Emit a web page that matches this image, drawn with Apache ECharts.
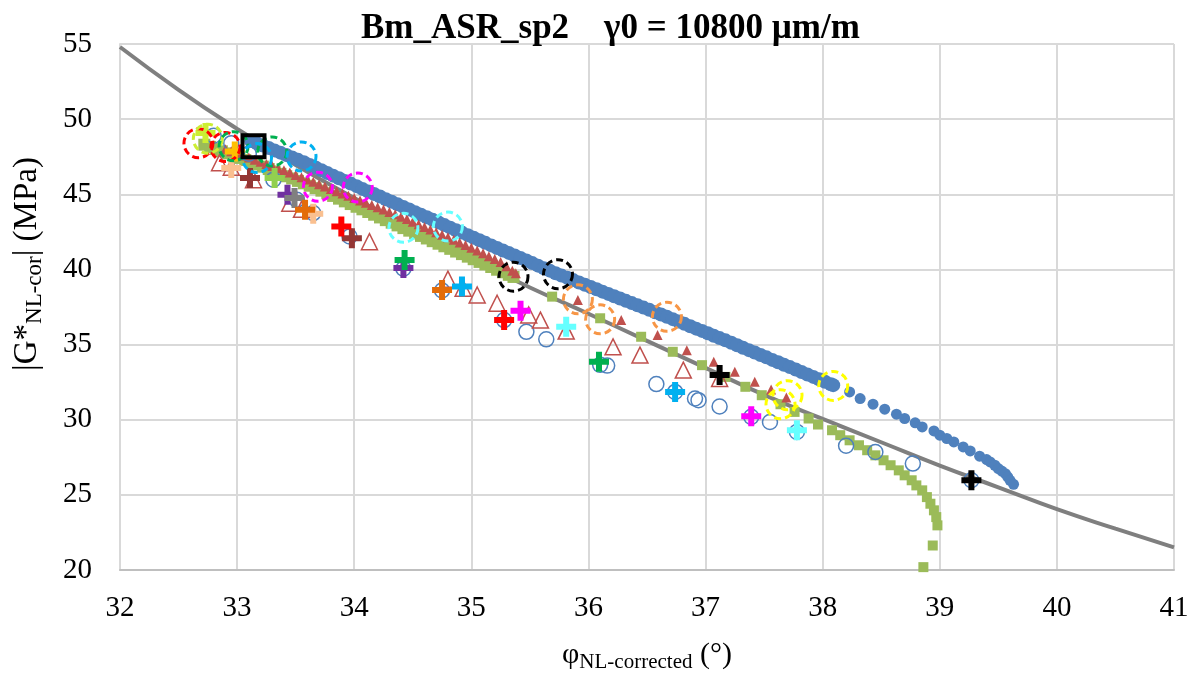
<!DOCTYPE html>
<html><head><meta charset="utf-8">
<script src="https://cdn.jsdelivr.net/npm/echarts@6/dist/echarts.min.js"></script>
<style>html,body{margin:0;padding:0;background:#fff}#c{width:1201px;height:674px}</style>
</head><body><div id="c"></div>
<script>
// ---- data ----
const titleText = 'Bm_ASR_sp2    \u03b30 = 10800 \u00b5m/m';
const xName = '\u03c6{s|NL-corrected} (\u00b0)';
const yName = '|G*{s|NL-cor}| (MPa)';
const xRange = [32, 41, 1];
const yRange = [20, 55, 5];

const grayCurve = [[32.0,54.80],[32.5,51.95],[33.0,49.35],[33.5,46.95],[34.0,44.75],[34.5,42.70],[35.0,40.70],[35.5,38.80],[36.0,37.05],[36.5,35.25],[37.0,33.45],[37.5,31.65],[38.0,30.05],[38.5,28.50],[39.0,26.95],[39.5,25.50],[40.0,24.05],[40.5,22.75],[41.0,21.50]];

const blueBand = [[33.12,48.55],[33.17,48.39],[33.22,48.24],[33.27,48.08],[33.32,47.92],[33.37,47.77],[33.42,47.61],[33.47,47.45],[33.52,47.29],[33.57,47.13],[33.62,46.95],[33.67,46.78],[33.72,46.60],[33.77,46.42],[33.82,46.24],[33.87,46.07],[33.92,45.89],[33.97,45.71],[34.02,45.54],[34.07,45.36],[34.12,45.19],[34.17,45.02],[34.22,44.85],[34.27,44.67],[34.32,44.50],[34.37,44.33],[34.42,44.16],[34.47,43.99],[34.52,43.81],[34.57,43.64],[34.62,43.47],[34.67,43.30],[34.72,43.13],[34.77,42.95],[34.82,42.78],[34.87,42.61],[34.92,42.45],[34.97,42.28],[35.02,42.11],[35.07,41.94],[35.12,41.77],[35.17,41.60],[35.22,41.43],[35.27,41.26],[35.32,41.10],[35.37,40.93],[35.42,40.76],[35.47,40.59],[35.52,40.42],[35.57,40.25],[35.62,40.08],[35.67,39.92],[35.72,39.75],[35.77,39.59],[35.82,39.44],[35.87,39.29],[35.92,39.13],[35.97,38.98],[36.02,38.83],[36.07,38.68],[36.12,38.52],[36.17,38.37],[36.22,38.22],[36.27,38.07],[36.32,37.91],[36.37,37.76],[36.42,37.61],[36.47,37.46],[36.52,37.31],[36.57,37.15],[36.62,37.00],[36.67,36.85],[36.72,36.69],[36.77,36.54],[36.82,36.38],[36.87,36.22],[36.92,36.06],[36.97,35.91],[37.02,35.75],[37.07,35.59],[37.12,35.43],[37.17,35.28],[37.22,35.12],[37.27,34.95],[37.32,34.79],[37.37,34.63],[37.42,34.47],[37.47,34.31],[37.52,34.15],[37.57,33.98],[37.62,33.82],[37.67,33.66],[37.72,33.50],[37.77,33.34],[37.82,33.17],[37.87,33.01],[37.92,32.85],[37.97,32.69],[38.02,32.53],[38.07,32.36],[38.09,32.30]];
const blueTail = [[38.23,31.85],[38.32,31.41],[38.43,31.03],[38.53,30.70],[38.63,30.37],[38.70,30.08],[38.79,29.79],[38.85,29.52],[38.95,29.25],[39.00,28.97],[39.06,28.75],[39.12,28.52],[39.20,28.19],[39.26,27.92],[39.34,27.57],[39.40,27.35],[39.43,27.19],[39.47,26.97],[39.50,26.75],[39.53,26.58],[39.56,26.41],[39.58,26.20],[39.60,25.97],[39.63,25.70]];

const redBand = [[32.90,48.00],[32.95,47.86],[33.00,47.72],[33.05,47.58],[33.10,47.44],[33.15,47.30],[33.20,47.16],[33.25,47.02],[33.30,46.88],[33.35,46.74],[33.40,46.60],[33.45,46.45],[33.50,46.29],[33.55,46.14],[33.60,45.98],[33.65,45.83],[33.70,45.67],[33.75,45.52],[33.80,45.36],[33.85,45.21],[33.90,45.06],[33.95,44.90],[34.00,44.75],[34.05,44.59],[34.10,44.44],[34.15,44.28],[34.20,44.13],[34.25,43.98],[34.30,43.82],[34.35,43.67],[34.40,43.51],[34.45,43.35],[34.50,43.17],[34.55,43.00],[34.60,42.83],[34.65,42.66],[34.70,42.48],[34.75,42.31],[34.80,42.14],[34.85,41.97],[34.90,41.80],[34.95,41.62],[35.00,41.45],[35.05,41.26],[35.10,41.07],[35.15,40.88],[35.20,40.69],[35.25,40.50],[35.30,40.21],[35.35,39.92],[35.38,39.75]];
const redSparse = [[35.91,37.97],[36.28,36.63],[36.59,35.63],[36.84,34.63],[37.07,33.85],[37.25,33.19],[37.42,32.52],[37.56,32.01],[37.69,31.48]];

const greenBand = [[32.72,48.30],[32.77,48.15],[32.82,48.01],[32.87,47.86],[32.92,47.72],[32.97,47.57],[33.02,47.42],[33.07,47.28],[33.12,47.13],[33.17,46.99],[33.22,46.84],[33.27,46.68],[33.32,46.52],[33.37,46.36],[33.42,46.20],[33.47,46.05],[33.52,45.89],[33.57,45.73],[33.62,45.57],[33.67,45.41],[33.72,45.24],[33.77,45.07],[33.82,44.89],[33.87,44.71],[33.92,44.53],[33.97,44.35],[34.02,44.17],[34.07,44.00],[34.12,43.82],[34.17,43.64],[34.22,43.46],[34.27,43.28],[34.32,43.11],[34.37,42.93],[34.42,42.75],[34.47,42.58],[34.52,42.40],[34.57,42.23],[34.62,42.06],[34.67,41.88],[34.72,41.71],[34.77,41.54],[34.82,41.37],[34.87,41.19],[34.92,41.02],[34.97,40.85],[35.02,40.68],[35.07,40.50],[35.12,40.33],[35.17,40.16],[35.22,39.98],[35.27,39.81],[35.32,39.64],[35.36,39.50]];
const greenSparse = [[35.69,38.19],[36.10,36.75],[36.45,35.52],[36.72,34.52],[36.97,33.63],[37.17,32.85],[37.34,32.19],[37.48,31.63],[37.64,31.03],[37.76,30.52],[37.88,30.08],[37.96,29.68],[38.08,29.30],[38.15,28.97],[38.23,28.63],[38.31,28.30],[38.38,27.97],[38.45,27.63],[38.52,27.30],[38.58,26.97],[38.65,26.63],[38.70,26.30],[38.76,25.97],[38.80,25.63],[38.85,25.30],[38.89,24.85],[38.92,24.41],[38.95,23.97],[38.97,23.52],[38.98,22.97],[38.94,21.63],[38.86,20.19]];

const openCircles = [[32.80,48.90],[32.95,48.40],[33.10,47.70],[33.31,45.97],[33.51,44.63],[33.65,43.75],[33.96,42.19],[34.42,40.05],[34.75,38.60],[35.28,36.63],[35.47,35.85],[35.64,35.35],[36.10,33.65],[36.16,33.60],[36.58,32.37],[36.74,31.85],[36.91,31.41],[36.94,31.30],[37.12,30.88],[37.39,30.19],[37.55,29.85],[37.78,29.19],[38.20,28.27],[38.45,27.85],[38.77,27.08],[39.27,25.97]];
const openTriangles = [[32.85,47.10],[32.95,46.80],[33.14,45.97],[33.45,44.41],[33.55,44.00],[34.13,41.85],[34.80,39.35],[34.93,38.75],[35.05,38.30],[35.22,37.75],[35.49,36.97],[35.59,36.63],[35.81,35.90],[36.21,34.85],[36.44,34.30],[36.81,33.30],[37.12,32.75]];

const plusColors = ['#CCEE33','#92D050','#FFC000','#FAC090','#943634','#7030A0','#808080','#E36C09','#FF0000','#00B050','#00B0F0','#FF00FF','#66FFFF','#000000'];
const plusPoints = [
  [[32.73,49.08]],
  [[33.32,46.08]],
  [[32.98,47.85]],
  [[32.95,46.75],[33.65,43.70]],
  [[33.11,46.08],[33.98,42.08]],
  [[33.43,44.97],[34.42,40.10]],
  [[33.49,44.75]],
  [[33.58,43.97],[34.75,38.63]],
  [[33.89,42.85],[35.28,36.63]],
  [[34.43,40.63],[36.09,33.85]],
  [[34.92,38.86],[36.74,31.85]],
  [[35.42,37.25],[37.39,30.23]],
  [[35.81,36.19],[37.78,29.30]],
  [[37.12,32.97],[39.27,25.97]]
];

const ringColors = ['#FF0000','#CCEE33','#00B050','#00B0F0','#FF00FF','#66FFFF','#000000','#F79646','#FFFF00'];
const ringPoints = [
  [[32.67,48.40],[32.90,48.15]],
  [[32.75,48.70]],
  [[32.97,48.20],[33.30,47.85]],
  [[33.17,47.41],[33.55,47.52]],
  [[33.69,45.50],[34.03,45.45]],
  [[34.42,42.77],[34.80,42.85]],
  [[35.36,39.52],[35.74,39.68]],
  [[35.91,38.01],[36.10,36.68],[36.67,36.85]],
  [[37.64,31.03],[37.70,31.63],[38.09,32.25]]
];
const startSquare = [[33.14,48.19]];

// ---- chart ----
const FONT = 'Liberation Serif';
const plusPath = 'path://M-1.5,-5H1.5V-1.5H5V1.5H1.5V5H-1.5V1.5H-5V-1.5H-1.5Z';
const series = [];
series.push({type:'line', data:grayCurve, smooth:true, showSymbol:false, lineStyle:{color:'#7F7F7F', width:4, opacity:1}, z:1, silent:true});
series.push({type:'scatter', data:blueBand, symbol:'circle', symbolSize:14, itemStyle:{color:'#4F81BD', opacity:1}, z:2});
series.push({type:'scatter', data:blueTail, symbol:'circle', symbolSize:11, itemStyle:{color:'#4F81BD', opacity:1}, z:2});
series.push({type:'scatter', data:greenBand, symbol:'rect', symbolSize:12, itemStyle:{color:'#9BBB59', opacity:1}, z:3});
series.push({type:'scatter', data:greenSparse, symbol:'rect', symbolSize:10, itemStyle:{color:'#9BBB59', opacity:1}, z:3});
series.push({type:'scatter', data:redBand, symbol:'triangle', symbolSize:10, itemStyle:{color:'#C0504D', opacity:1}, z:4});
series.push({type:'scatter', data:redSparse, symbol:'triangle', symbolSize:10, itemStyle:{color:'#C0504D', opacity:1}, z:4});
series.push({type:'scatter', data:openCircles, symbol:'circle', symbolSize:15, itemStyle:{color:'rgba(0,0,0,0)', borderColor:'#4F81BD', borderWidth:1.5, opacity:1}, z:5});
series.push({type:'scatter', data:openTriangles, symbol:'triangle', symbolSize:16, itemStyle:{color:'rgba(0,0,0,0)', borderColor:'#C0504D', borderWidth:1.5, opacity:1}, z:5});
plusColors.forEach((c,i)=>{
  series.push({type:'scatter', data:plusPoints[i], symbol:plusPath, symbolSize:20, itemStyle:{color:c, opacity:1}, z:6});
});
ringColors.forEach((c,i)=>{
  series.push({type:'scatter', data:ringPoints[i], symbol:'circle', symbolSize:29, itemStyle:{color:'rgba(0,0,0,0)', borderColor:c, borderWidth:3, borderType:[7,4], opacity:1}, z:7});
});
series.push({type:'scatter', data:startSquare, symbol:'rect', symbolSize:22, itemStyle:{color:'rgba(0,0,0,0)', borderColor:'#000', borderWidth:4, opacity:1}, z:8});

const chart = echarts.init(document.getElementById('c'), null, {renderer:'canvas'});
chart.setOption({
  animation:false,
  backgroundColor:'#fff',
  title:{text:titleText, left:356, top:6, textStyle:{fontFamily:FONT, fontSize:35, fontWeight:'bold', color:'#000'}},
  grid:{left:120, right:27, top:44, bottom:104, containLabel:false, outerBoundsMode:'none'},
  graphic:[{
    type:'text', x:27, y:264, rotation:Math.PI/2, z:10,
    style:{text:yName, fontFamily:FONT, fontSize:33, fill:'#000', align:'center', verticalAlign:'middle',
      rich:{s:{fontFamily:FONT, fontSize:23, fill:'#000', padding:[15,0,0,0]}}}
  }],
  xAxis:{type:'value', min:xRange[0], max:xRange[1], interval:xRange[2],
    axisLine:{show:true, lineStyle:{color:'#BFBFBF', width:2}}, axisTick:{show:false},
    splitLine:{show:true, lineStyle:{color:'#D9D9D9', width:2}},
    axisLabel:{fontFamily:FONT, fontSize:29, color:'#000', margin:24},
    name:xName, nameLocation:'middle', nameGap:68,
    nameTextStyle:{fontFamily:FONT, fontSize:30, color:'#000', rich:{s:{fontFamily:FONT, fontSize:21, color:'#000', padding:[14,0,0,0]}}}
  },
  yAxis:{type:'value', min:yRange[0], max:yRange[1], interval:yRange[2],
    axisLine:{show:true, lineStyle:{color:'#D9D9D9', width:2}}, axisTick:{show:false},
    splitLine:{show:true, lineStyle:{color:'#D9D9D9', width:2}},
    axisLabel:{fontFamily:FONT, fontSize:29, color:'#000', margin:28}
  },
  series:series
});
</script></body></html>
